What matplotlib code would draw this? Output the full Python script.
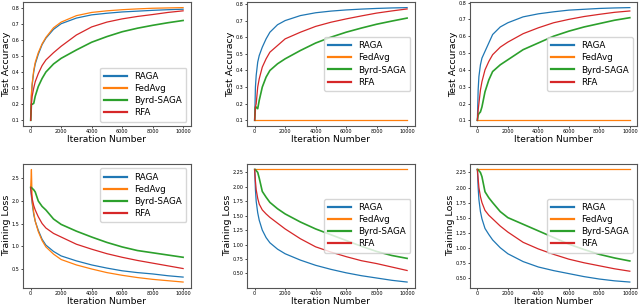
import matplotlib
matplotlib.use('Agg')
import matplotlib.pyplot as plt
import numpy as np

iters = [0, 50, 100, 200, 300, 500, 750, 1000, 1500, 2000, 3000, 4000, 5000, 6000, 7000, 8000, 9000, 10000]
methods = ['RAGA', 'FedAvg', 'Byrd-SAGA', 'RFA']
colors = ['#1f77b4', '#ff7f0e', '#2ca02c', '#d62728']

# test accuracy, three settings
acc1_raga = [0.1, 0.25, 0.32, 0.40, 0.45, 0.51, 0.57, 0.61, 0.665, 0.70, 0.735, 0.755, 0.765, 0.773, 0.778, 0.783, 0.787, 0.79]
acc1_fedavg = [0.1, 0.27, 0.33, 0.41, 0.46, 0.52, 0.575, 0.615, 0.675, 0.71, 0.75, 0.77, 0.78, 0.787, 0.792, 0.796, 0.798, 0.80]
acc1_byrd = [0.1, 0.2, 0.2, 0.205, 0.25, 0.31, 0.36, 0.40, 0.45, 0.485, 0.537, 0.585, 0.62, 0.65, 0.672, 0.69, 0.706, 0.72]
acc1_rfa = [0.1, 0.2, 0.25, 0.30, 0.34, 0.39, 0.44, 0.475, 0.52, 0.56, 0.63, 0.68, 0.71, 0.73, 0.745, 0.757, 0.77, 0.78]

acc2_raga = [0.1, 0.30, 0.37, 0.45, 0.49, 0.54, 0.59, 0.63, 0.675, 0.70, 0.73, 0.747, 0.757, 0.764, 0.769, 0.773, 0.776, 0.778]
acc2_fedavg = [0.1] * 18
acc2_byrd = [0.1, 0.18, 0.18, 0.17, 0.22, 0.30, 0.36, 0.40, 0.44, 0.47, 0.52, 0.565, 0.60, 0.63, 0.655, 0.678, 0.697, 0.715]
acc2_rfa = [0.1, 0.18, 0.2, 0.30, 0.35, 0.42, 0.47, 0.51, 0.55, 0.59, 0.63, 0.665, 0.69, 0.71, 0.728, 0.745, 0.758, 0.77]

acc3_raga = [0.1, 0.28, 0.36, 0.43, 0.47, 0.51, 0.56, 0.61, 0.655, 0.68, 0.715, 0.733, 0.745, 0.755, 0.76, 0.765, 0.768, 0.77]
acc3_fedavg = [0.1] * 18
acc3_byrd = [0.1, 0.13, 0.14, 0.15, 0.18, 0.27, 0.34, 0.39, 0.43, 0.46, 0.52, 0.56, 0.60, 0.63, 0.655, 0.675, 0.695, 0.71]
acc3_rfa = [0.1, 0.16, 0.2, 0.28, 0.33, 0.40, 0.45, 0.49, 0.535, 0.565, 0.615, 0.65, 0.68, 0.70, 0.717, 0.73, 0.742, 0.75]

# training loss, three settings
loss1_raga = [2.3, 2.1, 1.95, 1.7, 1.55, 1.35, 1.15, 1.02, 0.88, 0.78, 0.67, 0.58, 0.51, 0.45, 0.41, 0.38, 0.34, 0.31]
loss1_fedavg = [2.3, 2.7, 2.0, 1.75, 1.55, 1.32, 1.12, 0.98, 0.82, 0.70, 0.58, 0.49, 0.41, 0.35, 0.30, 0.26, 0.23, 0.20]
loss1_byrd = [2.3, 2.3, 2.28, 2.25, 2.2, 2.0, 1.88, 1.8, 1.6, 1.48, 1.33, 1.2, 1.08, 0.98, 0.9, 0.85, 0.8, 0.75]
loss1_rfa = [2.3, 2.15, 2.05, 1.9, 1.8, 1.65, 1.5, 1.4, 1.28, 1.2, 1.04, 0.93, 0.83, 0.75, 0.68, 0.62, 0.56, 0.5]

loss2_raga = [2.3, 1.95, 1.75, 1.55, 1.42, 1.25, 1.12, 1.03, 0.92, 0.84, 0.73, 0.64, 0.57, 0.51, 0.46, 0.42, 0.38, 0.35]
loss2_fedavg = [2.3] * 18
loss2_byrd = [2.3, 2.3, 2.28, 2.25, 2.15, 1.92, 1.82, 1.73, 1.62, 1.53, 1.39, 1.27, 1.17, 1.07, 0.97, 0.88, 0.81, 0.76]
loss2_rfa = [2.3, 2.1, 1.95, 1.8, 1.7, 1.6, 1.53, 1.47, 1.37, 1.27, 1.1, 0.96, 0.87, 0.79, 0.72, 0.67, 0.61, 0.55]

loss3_raga = [2.3, 2.0, 1.8, 1.6, 1.48, 1.32, 1.22, 1.13, 1.0, 0.9, 0.77, 0.68, 0.62, 0.57, 0.52, 0.48, 0.45, 0.43]
loss3_fedavg = [2.3] * 18
loss3_byrd = [2.3, 2.3, 2.28, 2.25, 2.18, 1.93, 1.83, 1.75, 1.6, 1.5, 1.39, 1.28, 1.17, 1.06, 0.97, 0.89, 0.83, 0.78]
loss3_rfa = [2.3, 2.15, 2.0, 1.85, 1.75, 1.62, 1.54, 1.48, 1.36, 1.26, 1.09, 0.98, 0.89, 0.81, 0.75, 0.70, 0.65, 0.61]

panels = [
    ([acc1_raga, acc1_fedavg, acc1_byrd, acc1_rfa], 'Test Accuracy', 'lower right'),
    ([acc2_raga, acc2_fedavg, acc2_byrd, acc2_rfa], 'Test Accuracy', 'center right'),
    ([acc3_raga, acc3_fedavg, acc3_byrd, acc3_rfa], 'Test Accuracy', 'center right'),
    ([loss1_raga, loss1_fedavg, loss1_byrd, loss1_rfa], 'Training Loss', 'upper right'),
    ([loss2_raga, loss2_fedavg, loss2_byrd, loss2_rfa], 'Training Loss', 'center right'),
    ([loss3_raga, loss3_fedavg, loss3_byrd, loss3_rfa], 'Training Loss', 'center right'),
]

fig = plt.figure(figsize=(6.4, 3.08), dpi=100)
lefts = [0.036, 0.386, 0.734]
w = 0.262
rows = [(0.591, 0.4026), (0.066, 0.402)]

for k, (series, ylab, loc) in enumerate(panels):
    r, c = divmod(k, 3)
    ax = fig.add_axes([lefts[c], rows[r][0], w, rows[r][1]])
    for vals, name, col in zip(series, methods, colors):
        lw = 1.2 if name == 'Byrd-SAGA' else 0.9
        ax.plot(iters, vals, color=col, lw=lw, label=name)
    ax.set_xticks([0, 2000, 4000, 6000, 8000, 10000])
    ax.tick_params(labelsize=3.5, length=1.5, width=0.5, pad=1)
    for s in ax.spines.values():
        s.set_color('#555555')
        s.set_linewidth(0.8)
    ax.set_xlabel('Iteration Number', fontsize=6.6, labelpad=0.5)
    ax.set_ylabel(ylab, fontsize=6.8, labelpad=0.5)
    leg = ax.legend(loc=loc, fontsize=6.3, handlelength=2.6, labelspacing=0.35, borderpad=0.5)
    for ln in leg.get_lines():
        ln.set_linewidth(1.6)

fig.savefig('out.png', dpi=100)
